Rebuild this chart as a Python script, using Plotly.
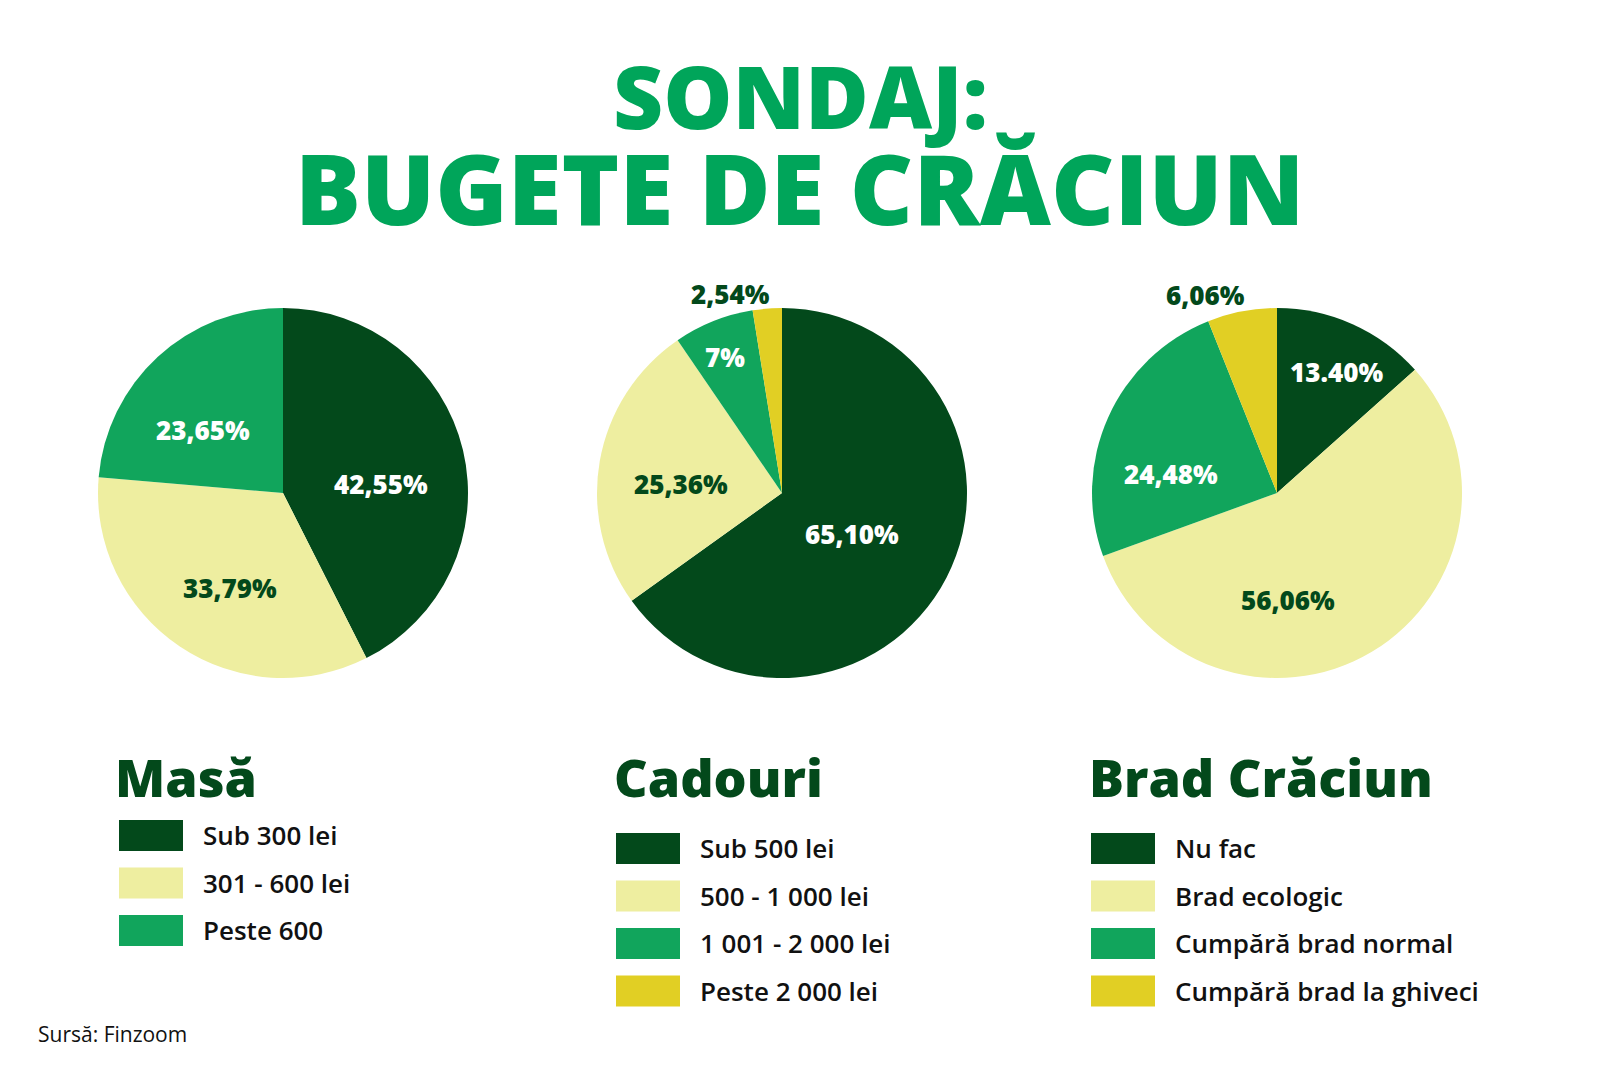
import math
import plotly.graph_objects as go

W, H = 1600, 1066
OFF = 8  # default page body margin
FW, FH = W - OFF, H - OFF

# ---------------- data ----------------
masa_labels = ["Sub 300 lei", "301 - 600 lei", "Peste 600"]
masa_values = [42.55, 33.79, 23.65]
masa_text = ["42,55%", "33,79%", "23,65%"]

cadouri_labels = ["Sub 500 lei", "500 - 1 000 lei", "1 001 - 2 000 lei", "Peste 2 000 lei"]
cadouri_values = [65.10, 25.36, 7.00, 2.54]
cadouri_text = ["65,10%", "25,36%", "7%", "2,54%"]

brad_labels = ["Nu fac", "Brad ecologic", "Cumpără brad normal", "Cumpără brad la ghiveci"]
brad_values = [13.40, 56.06, 24.48, 6.06]
brad_text = ["13.40%", "56,06%", "24,48%", "6,06%"]

titles = ["Masă", "Cadouri", "Brad Crăciun"]

# ---------------- style ----------------
DARK = "#03491b"
LIGHT = "#eeeea0"
MED = "#11a55c"
YEL = "#e1cf24"
TITLE_GREEN = "#00a55a"
colors = [DARK, LIGHT, MED, YEL]

FONT = "Open Sans"

def px(x):
    return (x - OFF) / FW

def py(y):
    return 1 - (y - OFF) / FH

pies = [
    dict(labels=masa_labels, values=masa_values, text=masa_text, cx=283, cy=493, R=185,
         lr=[0.53, 0.59, 0.55], da=[8, -5, -9],
         lcol=["white", DARK, "white"],
         leg_x=119, leg_y0=820, title_x=117),
    dict(labels=cadouri_labels, values=cadouri_values, text=cadouri_text, cx=782, cy=493, R=185,
         lr=[0.44, 0.55, 0.80, 1.11], da=[3, -5, -1, -10],
         lcol=["white", DARK, "white", DARK],
         leg_x=616, leg_y0=833, title_x=616),
    dict(labels=brad_labels, values=brad_values, text=brad_text, cx=1277, cy=493, R=185,
         lr=[0.73, 0.58, 0.58, 1.14], da=[2, 25, -14, -9],
         lcol=["white", DARK, "white", DARK],
         leg_x=1091, leg_y0=833, title_x=1091),
]

fig = go.Figure()
annotations = []
shapes = []

for i, p in enumerate(pies):
    cx, cy, R = p["cx"], p["cy"], p["R"]
    fig.add_trace(go.Pie(
        labels=p["labels"], values=p["values"],
        sort=False, direction="clockwise", rotation=0,
        marker=dict(colors=colors[:len(p["values"])], line=dict(width=0)),
        textinfo="none", hoverinfo="label+percent", showlegend=False,
        domain=dict(x=[px(cx - R), px(cx + R)], y=[py(cy + R), py(cy - R)]),
    ))
    total = sum(p["values"])
    cum = 0
    for j, v in enumerate(p["values"]):
        mid = (cum + v / 2) / total * 360 + p["da"][j]
        cum += v
        r = p["lr"][j] * R
        x = cx + r * math.sin(math.radians(mid))
        y = cy - r * math.cos(math.radians(mid))
        annotations.append(dict(
            x=px(x), y=py(y), xref="paper", yref="paper", showarrow=False,
            text=p["text"][j], xanchor="center", yanchor="middle",
            font=dict(family=FONT, size=26, color=p["lcol"][j], weight=800),
        ))
    # legend header
    annotations.append(dict(
        x=px(p["title_x"] - 4), y=py(776), xref="paper", yref="paper", showarrow=False,
        text=titles[i], xanchor="left", yanchor="middle",
        font=dict(family=FONT, size=52, color=DARK, weight=800),
    ))
    # legend entries
    for j, lab in enumerate(p["labels"]):
        y0 = p["leg_y0"] + j * 47.5
        shapes.append(dict(
            type="rect", xref="paper", yref="paper",
            x0=px(p["leg_x"]), x1=px(p["leg_x"] + 64),
            y0=py(y0 + 31), y1=py(y0),
            fillcolor=colors[j], line=dict(width=0),
        ))
        annotations.append(dict(
            x=px(p["leg_x"] + 82), y=py(y0 + 15), xref="paper", yref="paper", showarrow=False,
            text=lab, xanchor="left", yanchor="middle",
            font=dict(family=FONT, size=26, color="#111111", weight=600),
        ))

# main title
annotations.append(dict(
    x=px(800), y=py(95), xref="paper", yref="paper", showarrow=False,
    text="SONDAJ:", xanchor="center", yanchor="middle",
    font=dict(family=FONT, size=87, color=TITLE_GREEN, weight=800),
))
annotations.append(dict(
    x=px(800), y=py(187), xref="paper", yref="paper", showarrow=False,
    text="BUGETE DE CRĂCIUN", xanchor="center", yanchor="middle",
    font=dict(family=FONT, size=98, color=TITLE_GREEN, weight=800),
))
# source
annotations.append(dict(
    x=px(36), y=py(1034), xref="paper", yref="paper", showarrow=False,
    text="Sursă: Finzoom", xanchor="left", yanchor="middle",
    font=dict(family=FONT, size=21, color="#111111"),
))

fig.update_layout(
    width=FW, height=FH,
    margin=dict(l=0, r=0, t=0, b=0),
    paper_bgcolor="white", plot_bgcolor="white",
    annotations=annotations, shapes=shapes,
    font=dict(family=FONT),
)

fig.write_html("out.html")
